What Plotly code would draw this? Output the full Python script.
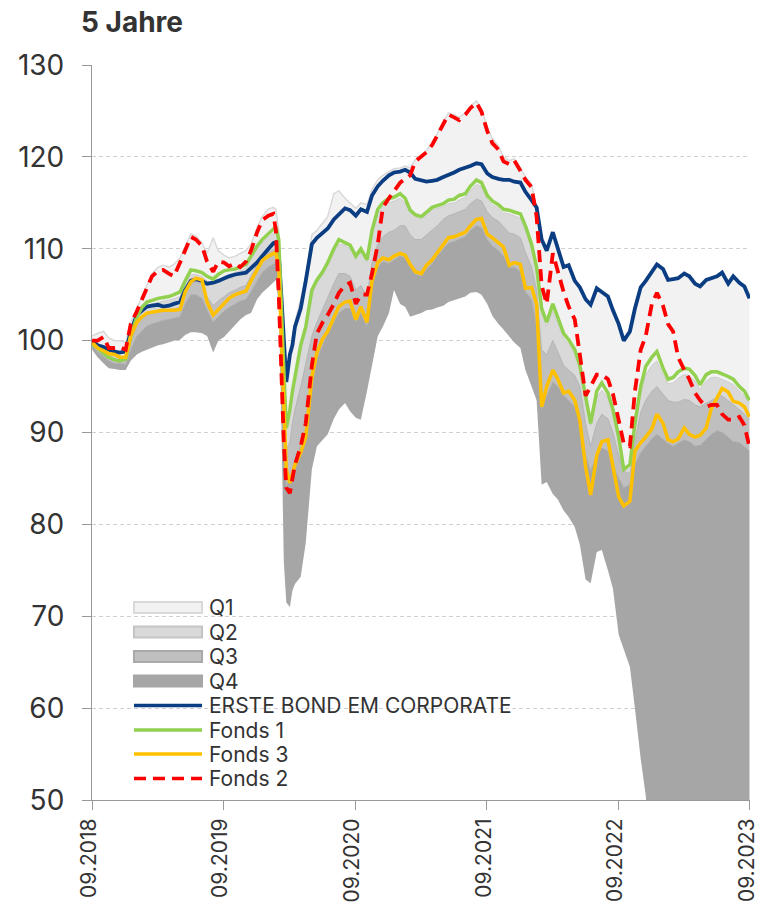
import plotly.graph_objects as go
import pandas as pd

# ---------------- data ----------------
semi = pd.date_range("2018-10-15", "2023-09-15", freq="SMS")
extra = pd.to_datetime(["2018-09-30", "2020-02-22", "2020-03-08", "2020-03-22",
                        "2020-04-08", "2023-09-29"])
dates = semi.append(extra).sort_values()

tick_dates = ["2018-09-30", "2019-09-30", "2020-09-30", "2021-09-30", "2022-09-30", "2023-09-30"]
tick_labels = ["09.2018", "09.2019", "09.2020", "09.2021", "09.2022", "09.2023"]

erste = [
    100.0, 99.5, 99.3, 99.0, 98.8, 98.7,
    98.8, 101.0, 102.8, 103.3, 103.7, 103.8, 103.9, 103.7, 103.8, 104.0, 104.2, 105.5,
    106.5, 106.7, 106.5, 106.2, 106.3, 106.5, 106.8, 107.0, 107.2, 107.3, 107.4, 107.9,
    108.5, 109.2, 110.0, 110.6, 110.7, 109.5, 105.0, 100.0, 95.5, 98.5, 99.5, 101.5,
    103.5, 106.5, 110.5, 111.2, 111.8, 112.2, 113.2, 113.8, 114.4, 114.2, 113.6, 114.3,
    114.0, 115.8, 116.8, 117.4,
    118.0, 118.3, 118.4, 118.6, 118.3, 117.6, 117.4, 117.3, 117.4, 117.5, 117.8, 118.0,
    118.3, 118.6, 118.8, 119.0, 119.3, 119.2, 118.2, 117.8, 117.6, 117.5, 117.5, 117.3,
    117.2, 116.2, 115.3, 114.5, 111.0, 109.8, 111.8, 110.0, 108.0, 108.2, 106.5, 105.8,
    104.5, 103.9, 105.7, 105.3, 104.8, 103.3, 101.8, 100.0, 101.0, 103.5, 105.8, 106.5,
    107.4, 108.3, 107.8, 106.6, 106.7, 106.8, 107.3, 107.0, 106.2, 105.9, 106.6, 106.8,
    107.0, 107.4, 106.2, 107.0, 106.3, 105.9, 104.6,
]
fonds1 = [
    99.6, 99.2, 98.6, 98.2, 97.9, 97.8,
    98.0, 100.5, 102.6, 103.6, 104.2, 104.4, 104.6, 104.7, 104.8, 105.0, 105.3, 106.5,
    107.7, 107.6, 107.4, 107.0, 106.7, 107.2, 107.6, 107.7, 107.8, 108.0, 108.3, 109.2,
    110.3, 111.0, 111.6, 112.2, 112.4, 111.0, 105.0, 97.0, 90.5, 92.5, 94.5, 96.0,
    99.5, 101.5, 105.5, 106.6, 107.5, 108.5, 110.0, 111.0, 110.7, 110.4, 109.2, 110.0,
    108.8, 112.0, 114.3, 115.0,
    115.5, 115.6, 116.0, 115.5, 114.2, 113.7, 113.5, 114.0, 114.5, 114.7, 114.9, 115.3,
    115.4, 115.8, 116.0, 116.8, 117.5, 117.2, 115.8, 115.2, 114.8, 114.3, 114.2, 114.0,
    113.8, 112.5, 110.5, 108.0, 103.5, 102.0, 104.0, 102.5, 100.8, 100.1, 99.0, 97.3,
    93.9, 91.0, 94.5, 95.4, 94.3, 92.5, 89.5, 86.0, 86.5, 91.0, 95.0, 97.2,
    98.2, 98.8, 97.0, 95.8, 96.0, 96.6, 97.0, 96.9, 96.2, 95.2, 96.3, 96.6,
    96.6, 96.4, 96.1, 95.8, 95.0, 94.5, 93.5,
]
fonds3 = [
    99.8, 99.2, 98.9, 98.6, 98.5, 98.2,
    98.2, 100.5, 102.0, 102.6, 103.0, 103.1, 103.2, 103.3, 103.3, 103.3, 103.4, 105.3,
    106.4, 106.8, 106.6, 104.2, 102.8, 103.4, 104.0, 104.6, 105.0, 105.2, 105.4, 106.5,
    107.8, 108.7, 109.2, 109.5, 109.6, 108.0, 100.0, 92.0, 86.0, 84.5, 85.5, 86.5,
    87.8, 89.5, 96.0, 98.7, 100.2, 101.0, 102.5, 103.7, 104.2, 104.3, 102.3, 103.7,
    102.0, 106.5, 108.5, 109.0,
    108.8, 109.2, 109.5, 109.3, 108.3, 107.5, 107.3, 108.2, 108.8, 109.6, 110.5, 111.2,
    111.3, 111.5, 111.8, 112.5, 113.2, 113.3, 111.6, 111.2, 110.6, 110.2, 108.2, 108.5,
    108.3, 105.7, 105.8, 104.0, 92.8, 95.0, 96.8, 95.8, 94.3, 94.5, 93.5, 91.3,
    86.3, 83.2, 87.5, 89.0, 89.2, 86.5, 83.0, 82.0, 82.5, 88.0, 88.9, 89.5,
    90.4, 92.0, 91.0, 89.2, 89.0, 89.3, 90.5, 89.8, 89.5, 89.7, 90.5, 92.6,
    93.8, 94.8, 94.4, 93.4, 93.2, 92.8, 91.7,
]
fonds2 = [
    100.0, 100.0, 100.4, 99.2, 99.2, 99.3,
    99.0, 101.8, 103.2, 104.5, 105.8, 107.0, 107.6, 107.7, 107.3, 107.0, 108.5, 109.8,
    111.3, 111.0, 110.3, 108.6, 107.5, 108.6, 108.5, 108.1, 108.4, 108.0, 108.6, 109.8,
    111.8, 113.1, 113.6, 113.8, 112.0, 105.0, 96.0, 89.0, 84.0, 83.4, 85.0, 86.5,
    88.5, 91.0, 97.3, 100.8, 102.0, 102.8, 104.0, 105.2, 106.0, 106.3, 104.0, 105.0,
    105.0, 107.3, 110.5, 114.5,
    115.5, 116.2, 117.2, 117.6, 118.0, 119.5, 120.0, 120.5, 121.3, 122.3, 123.5, 124.6,
    124.3, 124.0, 124.6, 125.3, 125.9, 124.9, 122.8, 121.5, 120.8, 119.5, 119.2, 119.6,
    118.5, 117.5, 116.7, 113.5, 106.0, 104.0, 109.5, 107.5, 105.3, 103.7, 102.3, 98.5,
    94.0, 95.0, 96.3, 96.3, 95.8, 94.2, 91.5, 88.8, 88.5, 94.5, 99.0, 100.5,
    104.0, 105.2, 103.8, 101.8, 101.0, 98.2, 96.8, 95.8, 94.3, 93.5, 92.8, 93.0,
    93.0, 92.0, 91.4, 91.4, 91.7, 90.8, 88.4,
]

# quartile band boundaries (top of Q1 ... bottom of Q4)
q1_top = [
    100.5, 100.8, 101.0, 100.3, 100.0, 100.0,
    99.8, 102.0, 103.5, 104.8, 106.0, 107.3, 108.0, 108.2, 108.0, 108.3, 109.0, 110.2,
    111.6, 111.4, 110.6, 109.5, 111.2, 109.8, 109.3, 109.0, 109.2, 109.5, 109.8, 110.5,
    112.3, 113.5, 114.3, 114.5, 114.3, 112.0, 106.0, 100.5, 96.5, 98.8, 100.0, 102.0,
    104.5, 107.0, 111.5, 112.0, 112.8, 113.5, 116.0, 116.3, 115.5, 115.0, 114.4, 115.0,
    114.8, 116.5, 117.5, 118.0,
    118.4, 118.7, 118.8, 119.0, 118.8, 119.7, 120.2, 120.7, 121.5, 122.5, 123.7, 124.8,
    124.6, 124.3, 124.8, 125.5, 126.1, 125.2, 123.2, 122.0, 121.2, 120.0, 119.6, 119.8,
    118.8, 117.8, 117.0, 114.5, 111.3, 110.0, 111.8, 110.0, 108.0, 108.2, 106.5, 105.8,
    104.5, 103.9, 105.7, 105.3, 104.8, 103.3, 101.8, 100.0, 101.0, 103.5, 105.8, 106.5,
    107.4, 108.3, 107.8, 106.6, 106.7, 106.8, 107.3, 107.0, 106.2, 105.9, 106.6, 106.8,
    107.0, 107.4, 106.2, 107.0, 106.3, 105.9, 104.6,
]
q2_top = [
    100.0, 99.3, 98.8, 98.5, 98.2, 98.1,
    98.3, 100.5, 102.3, 103.2, 103.8, 104.0, 104.2, 104.3, 104.4, 104.6, 104.8, 106.0,
    107.2, 107.2, 107.0, 106.5, 106.0, 106.5, 107.0, 107.2, 107.4, 107.6, 107.9, 108.8,
    110.0, 110.7, 111.2, 111.7, 111.8, 110.0, 103.0, 96.0, 91.0, 92.5, 94.0, 96.0,
    99.5, 101.5, 105.0, 106.3, 107.2, 108.2, 109.6, 110.5, 110.4, 110.0, 109.0, 109.6,
    108.6, 111.6, 113.8, 114.6,
    115.0, 115.2, 115.5, 115.0, 114.0, 113.5, 113.2, 113.7, 114.2, 114.4, 114.6, 114.9,
    115.0, 115.3, 115.6, 116.3, 117.0, 116.8, 115.4, 114.8, 114.4, 113.9, 113.8, 113.6,
    113.3, 112.0, 110.0, 107.5, 103.0, 101.6, 103.2, 101.8, 100.3, 99.6, 98.5, 97.0,
    93.3, 90.8, 93.8, 94.6, 93.8, 92.0, 88.8, 86.0, 86.0, 90.3, 94.2, 96.3,
    97.3, 97.8, 96.3, 95.3, 95.4, 95.9, 96.3, 96.2, 95.6, 94.7, 95.6, 96.0,
    96.0, 95.8, 95.5, 95.2, 94.5, 94.0, 93.2,
]
q3_top = [
    99.8, 99.0, 98.5, 98.2, 98.0, 97.9,
    97.9, 99.8, 101.6, 102.3, 102.8, 103.0, 103.2, 103.3, 103.4, 103.5, 103.6, 105.2,
    106.2, 106.4, 106.2, 104.8, 103.8, 104.3, 104.8, 105.2, 105.5, 105.8, 106.0, 107.0,
    108.3, 109.1, 109.6, 109.9, 110.0, 108.5, 100.0, 93.0, 88.0, 89.0, 91.0, 92.5,
    95.0, 97.5, 100.5, 102.0, 103.5, 104.8, 106.2, 107.3, 107.3, 107.0, 105.5, 106.0,
    104.8, 108.5, 110.5, 111.3,
    111.8, 112.0, 112.5, 112.5, 111.5, 111.0, 111.0, 111.5, 112.0, 112.5, 113.2, 113.6,
    113.8, 114.0, 114.3, 114.9, 115.4, 115.2, 114.0, 113.4, 113.0, 112.4, 111.7, 111.6,
    111.2, 109.6, 108.0, 105.5, 99.0, 98.5, 100.0, 98.8, 97.3, 96.8, 96.2, 95.0,
    91.0, 88.5, 91.0, 92.0, 91.5, 90.0, 87.5, 85.8, 85.5, 89.0, 92.2, 93.5,
    94.5, 95.0, 94.2, 93.5, 93.3, 93.3, 93.6, 93.5, 93.0, 92.8, 93.2, 93.5,
    93.8, 94.0, 93.5, 93.0, 92.5, 92.0, 91.5,
]
q4_top = [
    99.5, 98.8, 98.3, 97.8, 97.5, 97.5,
    97.4, 99.0, 100.5, 101.0, 101.6, 101.8, 102.0, 102.2, 102.3, 102.4, 102.6, 104.0,
    105.0, 105.0, 104.6, 103.3, 102.0, 102.6, 103.2, 103.6, 104.0, 104.3, 104.5, 105.3,
    106.5, 107.4, 108.0, 108.4, 108.5, 106.5, 96.0, 88.0, 84.0, 85.0, 86.0, 87.0,
    88.5, 90.0, 95.0, 98.0, 99.5, 100.8, 102.0, 103.0, 103.5, 103.5, 102.0, 103.0,
    101.5, 106.0, 108.0, 108.6,
    108.4, 108.8, 109.2, 109.0, 108.0, 107.2, 107.0, 107.8, 108.4, 109.2, 110.0, 110.6,
    110.8, 111.0, 111.3, 112.0, 112.5, 112.3, 111.0, 110.3, 109.8, 109.2, 108.0, 108.0,
    107.5, 105.3, 104.5, 101.5, 92.5, 94.0, 95.5, 95.0, 94.0, 93.5, 92.8, 91.0,
    87.5, 85.8, 87.5, 88.3, 88.0, 86.5, 85.0, 84.0, 84.3, 86.5, 87.8, 88.5,
    89.3, 89.8, 89.3, 88.8, 88.5, 88.8, 89.2, 89.0, 88.5, 88.6, 89.3, 89.8,
    90.2, 90.0, 89.5, 89.0, 88.9, 88.4, 88.0,
]
q4_bottom = [
    99.0, 98.2, 97.5, 97.0, 96.9, 96.8,
    96.8, 97.8, 98.5, 98.8, 99.0, 99.2, 99.5, 99.6, 99.8, 100.0, 100.1, 100.6,
    100.9, 100.9, 100.8, 100.5, 98.7, 100.0, 100.4, 101.0, 101.8, 102.3, 102.8, 103.0,
    104.5, 105.2, 105.8, 106.4, 106.6, 104.0, 92.0, 76.0, 71.5, 71.0, 72.8, 73.5,
    74.3, 78.0, 86.0, 88.5, 89.2, 89.8, 91.5, 92.5, 93.2, 92.3, 91.6, 91.4,
    94.5, 97.5, 100.5, 101.5,
    103.0, 105.5, 104.0, 103.7, 102.6, 102.8, 103.0, 103.3, 103.4, 103.6, 103.8, 104.2,
    104.4, 104.6, 104.8, 105.2, 105.3, 105.0, 104.0, 102.7, 101.8, 101.2, 100.5, 99.8,
    99.2, 96.8, 95.0, 93.5, 84.3, 84.6, 83.3, 82.7, 81.5, 80.8, 79.7, 77.8,
    74.0, 73.6, 77.0, 77.2, 75.0, 73.0, 68.0, 66.5, 64.5, 60.0, 54.5, 50.5,
    40.0, 40.0, 40.0, 40.0, 40.0, 40.0, 40.0, 40.0, 40.0, 40.0, 40.0, 40.0,
    40.0, 40.0, 40.0, 40.0, 40.0, 40.0, 40.0,
]

for arr in (erste, fonds1, fonds3, fonds2, q1_top, q2_top, q3_top, q4_top, q4_bottom):
    assert len(arr) == len(dates), len(arr)

# ---------------- styling ----------------
FONT = "Inter"
TXT = "#333333"
W, H = 759, 905
L, R, T, B = 92, 9, 65, 105

C_Q1, C_Q2, C_Q3, C_Q4 = "#f2f2f2", "#d9d9d9", "#bfbfbf", "#a6a6a6"
E_Q1, E_Q2, E_Q3 = "#d9d9d9", "#c4c4c4", "#a9a9a9"
C_ERSTE, C_F1, C_F3, C_F2 = "#0b3d82", "#92d050", "#ffc000", "#ff0000"

fig = go.Figure()

# quartile bands
fig.add_trace(go.Scatter(x=dates, y=q4_bottom, mode="lines", line=dict(width=0, color=C_Q4),
                         showlegend=False, hoverinfo="skip"))
fig.add_trace(go.Scatter(x=dates, y=q4_top, mode="lines", fill="tonexty", fillcolor=C_Q4,
                         line=dict(width=0.8, color=C_Q4), name="Q4", showlegend=False))
fig.add_trace(go.Scatter(x=dates, y=q3_top, mode="lines", fill="tonexty", fillcolor=C_Q3,
                         line=dict(width=0.8, color=E_Q3), name="Q3", showlegend=False))
fig.add_trace(go.Scatter(x=dates, y=q2_top, mode="lines", fill="tonexty", fillcolor=C_Q2,
                         line=dict(width=0.8, color=E_Q2), name="Q2", showlegend=False))
fig.add_trace(go.Scatter(x=dates, y=q1_top, mode="lines", fill="tonexty", fillcolor=C_Q1,
                         line=dict(width=1.5, color=E_Q1), name="Q1", showlegend=False))

# fund lines
fig.add_trace(go.Scatter(x=dates, y=erste, mode="lines", name="ERSTE BOND EM CORPORATE",
                         line=dict(color=C_ERSTE, width=3.8), showlegend=False))
fig.add_trace(go.Scatter(x=dates, y=fonds1, mode="lines", name="Fonds 1",
                         line=dict(color=C_F1, width=3.5), showlegend=False))
fig.add_trace(go.Scatter(x=dates, y=fonds3, mode="lines", name="Fonds 3",
                         line=dict(color=C_F3, width=3.5), showlegend=False))
fig.add_trace(go.Scatter(x=dates, y=fonds2, mode="lines", name="Fonds 2",
                         line=dict(color=C_F2, width=3.8, dash="12px,7px"), showlegend=False))

# ---------------- manual legend ----------------
PW, PH = W - L - R, H - T - B


def px(xp):
    return (xp - L) / PW


def py(yp):
    return (H - B - yp) / PH


legend_items = [
    ("Q1", "box", C_Q1, E_Q1, 607.5),
    ("Q2", "box", C_Q2, E_Q2, 632),
    ("Q3", "box", C_Q3, E_Q3, 656.5),
    ("Q4", "box", C_Q4, C_Q4, 681),
    ("ERSTE BOND EM CORPORATE", "line", C_ERSTE, None, 705.5),
    ("Fonds 1", "line", C_F1, None, 730),
    ("Fonds 3", "line", C_F3, None, 754),
    ("Fonds 2", "dash", C_F2, None, 778.5),
]
shapes = []
annotations = []
sx0, sx1, tx = 134, 202, 207
for label, kind, col, edge, yc in legend_items:
    if kind == "box":
        shapes.append(dict(type="rect", xref="paper", yref="paper",
                           x0=px(sx0), x1=px(sx1), y0=py(yc + 5.5), y1=py(yc - 5.5),
                           fillcolor=col, line=dict(color=edge, width=2), layer="above"))
    else:
        shapes.append(dict(type="line", xref="paper", yref="paper",
                           x0=px(sx0), x1=px(sx1), y0=py(yc), y1=py(yc),
                           line=dict(color=col, width=3.5,
                                     dash="12px,7px" if kind == "dash" else "solid"),
                           layer="above"))
    annotations.append(dict(text=label, xref="paper", yref="paper", x=px(tx), y=py(yc),
                            xanchor="left", yanchor="middle", showarrow=False,
                            font=dict(family=FONT, size=21, color=TXT)))

fig.update_layout(
    width=W, height=H,
    margin=dict(l=L, r=R, t=T, b=B, autoexpand=False),
    paper_bgcolor="white", plot_bgcolor="white",
    title=dict(text="<b>5 Jahre</b>", x=81 / W, xanchor="left", xref="container",
               y=1 - 22 / H, yanchor="middle", yref="container",
               font=dict(family=FONT, size=28, color=TXT)),
    shapes=shapes, annotations=annotations,
    showlegend=False,
    xaxis=dict(type="date", range=["2018-09-29 12:00", "2023-09-30 12:00"],
               tickvals=tick_dates, ticktext=tick_labels, tickangle=-90,
               ticks="outside", ticklen=9, tickcolor="#999999", tickwidth=1,
               showline=True, linecolor="#999999", linewidth=1.2,
               showgrid=False, zeroline=False, ticklabeloverflow="allow",
               ticklabelshift=-3,
               tickfont=dict(family=FONT, size=21, color=TXT)),
    yaxis=dict(range=[50, 130], dtick=10, tick0=50,
               ticks="outside", ticklen=9, tickcolor="#999999", tickwidth=1,
               showline=True, linecolor="#999999", linewidth=1.2,
               showgrid=True, gridcolor="#d0d0d0", gridwidth=1, griddash="4px,3px",
               zeroline=False, ticklabelstandoff=12,
               tickfont=dict(family=FONT, size=28, color=TXT)),
)

fig.write_html("out.html", config={"displayModeBar": False},
               post_script="document.body.style.margin='0';")
